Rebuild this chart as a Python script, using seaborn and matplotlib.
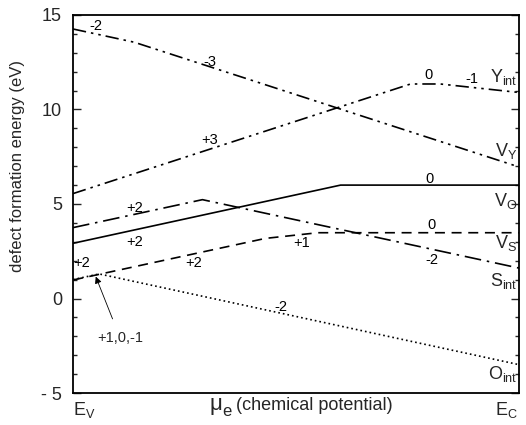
import matplotlib
matplotlib.use("Agg")
import matplotlib.pyplot as plt
import seaborn as sns
import pandas as pd

# band gap span (E_V -> E_C), eV
eg = 2.55

# formation energy breakpoints per defect
yint_x = [0, 1.93, 2.1, 2.55]
yint_y = [5.55, 11.35, 11.35, 10.9]
vy_x = [0, 0.35, 2.55]
vy_y = [14.26, 13.56, 6.96]
vo_x = [0, 1.53, 2.55]
vo_y = [2.92, 6.0, 6.0]
vs_x = [0, 1.1, 1.4, 2.55]
vs_y = [0.98, 3.18, 3.48, 3.48]
sint_x = [0, 0.74, 2.55]
sint_y = [3.75, 5.23, 1.61]
oint_x = [0, 0.15, 2.55]
oint_y = [1.0, 1.3, -3.5]

defects = ["Yint", "VY", "VO", "VS", "Sint", "Oint"]
xs = [yint_x, vy_x, vo_x, vs_x, sint_x, oint_x]
ys = [yint_y, vy_y, vo_y, vs_y, sint_y, oint_y]

# charge-state labels: (text, x, y)
charge_labels = [
    ("-2", 0.13, 14.4), ("-3", 0.78, 12.5), ("+3", 0.78, 8.4),
    ("0", 2.03, 11.85), ("-1", 2.28, 11.6), ("0", 2.04, 6.3),
    ("+2", 0.35, 4.8), ("+2", 0.35, 3.0), ("+2", 0.05, 1.9),
    ("+2", 0.69, 1.9), ("+1", 1.31, 2.95), ("0", 2.05, 3.9),
    ("-2", 2.05, 2.05), ("-2", 1.19, -0.45),
]
# defect names at right edge: (label, y)
name_labels = [
    (r"$\mathregular{Y_{int}}$", 11.7), (r"$\mathregular{V_Y}$", 7.8),
    (r"$\mathregular{V_O}$", 5.15), (r"$\mathregular{V_S}$", 2.95),
    (r"$\mathregular{S_{int}}$", 0.9), (r"$\mathregular{O_{int}}$", -4.0),
]

rows = []
for d, xx, yy in zip(defects, xs, ys):
    for a, b in zip(xx, yy):
        rows.append({"defect": d, "mu": a, "E": b})
df = pd.DataFrame(rows)

sns.set_style("ticks")
plt.rcParams["font.family"] = ["Liberation Sans", "DejaVu Sans"]

fig = plt.figure(figsize=(5.26, 4.25), dpi=100)
ax = fig.add_axes([73 / 526, 1 - 393 / 425, 446 / 526, 378 / 425])

dashes = {
    "Yint": (8, 3, 1.5, 3, 1.5, 3),
    "VY": (8, 3, 1.5, 3, 1.5, 3),
    "VO": "",
    "VS": (6, 4),
    "Sint": (10, 3.5, 1.5, 3.5),
    "Oint": (1, 1.8),
}
sns.lineplot(data=df, x="mu", y="E", hue="defect", style="defect",
             palette={d: "black" for d in defects}, dashes=dashes,
             sort=False, estimator=None, linewidth=1.2, legend=False, ax=ax)

for t, x, y in charge_labels:
    ax.text(x, y, t, fontsize=10.5, ha="center", va="center", color="black")

for lab, y in name_labels:
    ax.text(2.54, y, lab, fontsize=13, ha="right", va="center")

ax.annotate("+1,0,-1", xy=(0.13, 1.16), xytext=(0.27, -2.1),
            fontsize=10.5, ha="center", va="center",
            arrowprops=dict(arrowstyle="-|>", color="black", lw=0.6,
                            shrinkA=7, shrinkB=0, mutation_scale=10))

ax.set_xlim(0, eg)
ax.set_ylim(-5, 15)
ax.set_yticks([-5, 0, 5, 10, 15], labels=["- 5", "0", "5", "10", "15"])
ax.set_yticks(range(-5, 16), minor=True)
ax.tick_params(axis="y", which="both", direction="in", right=True,
               labelsize=13, pad=8, width=1)
ax.tick_params(axis="y", which="major", length=6)
ax.tick_params(axis="y", which="minor", length=3)
ax.set_xticks([])
for s in ax.spines.values():
    s.set_linewidth(1.3)
    s.set_color("black")

ax.set_xlabel("")
ax.set_ylabel("defect formation energy (eV)", fontsize=12)
ax.yaxis.set_label_coords(-0.108, 0.6)

# x axis annotations (band edges and mu_e)
fig.text(73 / 526, 1 - 400 / 425, r"$\mathregular{E_V}$", fontsize=13,
         ha="left", va="top")
fig.text(518 / 526, 1 - 400 / 425, r"$\mathregular{E_C}$", fontsize=13,
         ha="right", va="top")
fig.text(222 / 526, 1 - 410 / 425, "\u03bc", fontsize=16, ha="right")
fig.text(222 / 526, 1 - 416 / 425, "e", fontsize=12, ha="left")
fig.text(393 / 526, 1 - 410 / 425, "(chemical potential)", fontsize=13, ha="right")

fig.savefig("out.png", dpi=100)
